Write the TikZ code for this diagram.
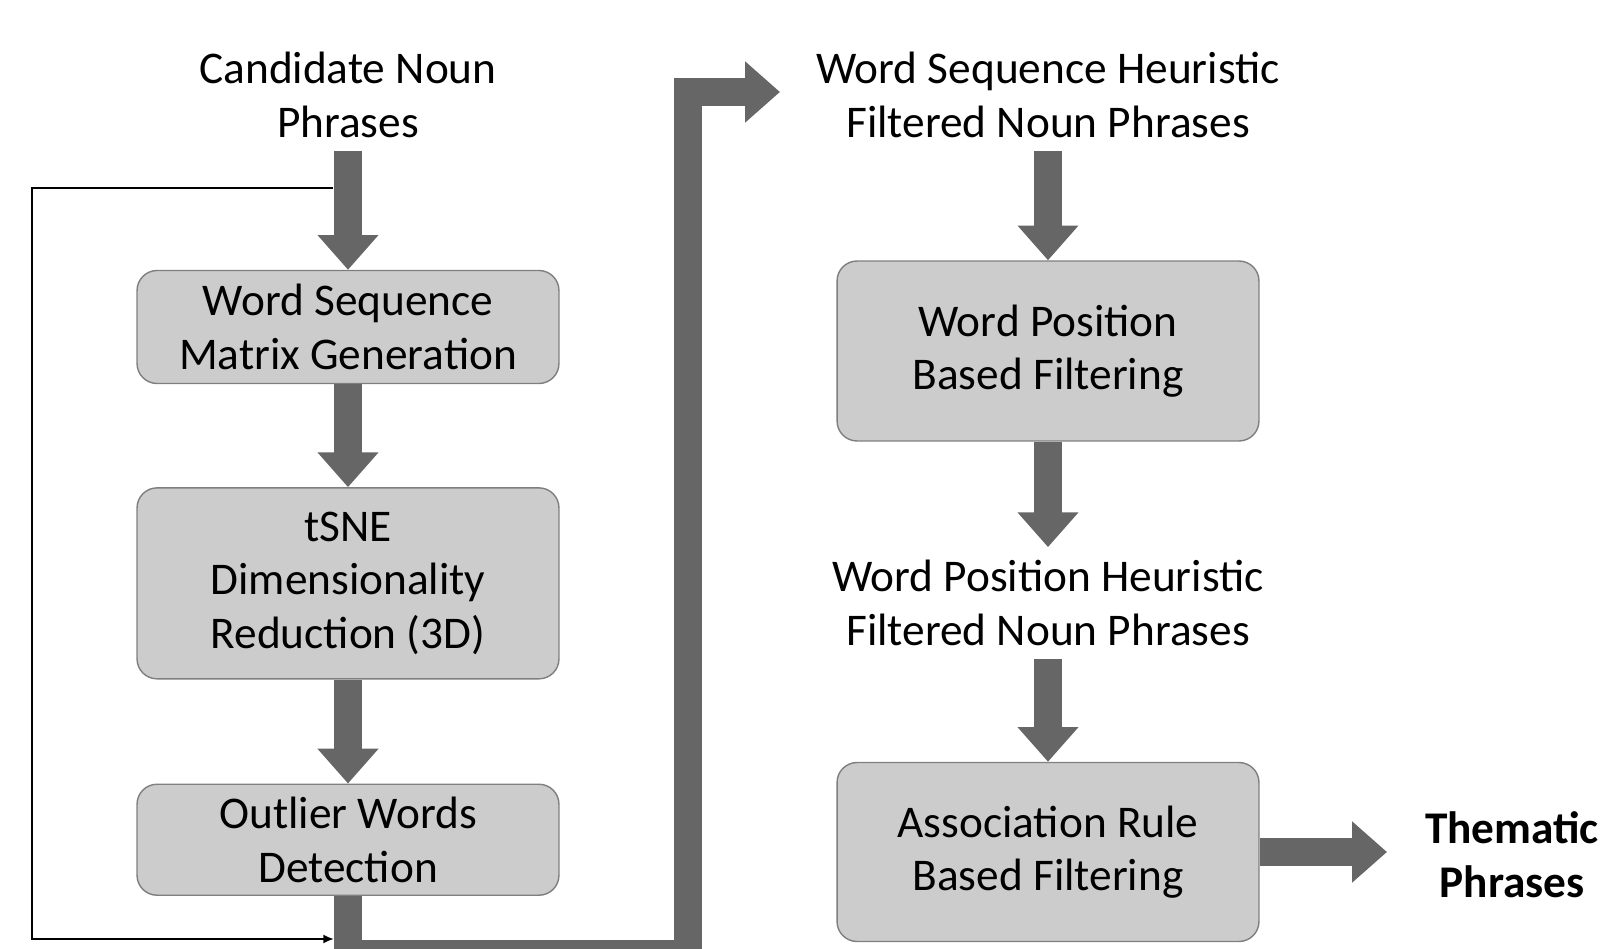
\documentclass[tikz,border=0pt]{standalone}
\usepackage{fontspec}
\setmainfont{Carlito}
\usetikzlibrary{arrows.meta, positioning}

\definecolor{boxfill}{HTML}{CCCCCC}
\definecolor{boxline}{HTML}{7F7F7F}
\definecolor{arrowgray}{HTML}{666666}

\tikzset{
	stage/.style={rectangle,
		rounded corners=0.4cm,
		draw=boxline,
		line width=0.8pt,
		fill=boxfill,
		align=center,
		minimum width=8.44cm,
		inner sep=0pt,
		font=\fontsize{25.8}{30.5}\selectfont},
	phrase/.style={align=center,
		inner sep=2pt,
		outer ysep=5.5pt,
		font=\fontsize{25.8}{30.5}\selectfont},
	fat/.style={draw=arrowgray,
		line width=16.4pt,
		line join=miter,
		-{Triangle[length=19.8pt, width=33.5pt]}},
	thin/.style={draw=black,
		line width=1.1pt,
		-{Latex[length=6pt, width=5pt]}}
}

\begin{document}
\begin{tikzpicture}[x=0.02cm, y=-0.02cm]
	\useasboundingbox (0,0) rectangle (1605,949);

	% Left column
	\node[phrase] (cand) at (348,95) {Candidate Noun\\Phrases};
	\node[stage,
		  minimum height=2.26cm] (wsm) at (348,327) {Word Sequence\\Matrix Generation};
	\node[stage,
		  minimum height=3.82cm,
		  below=2.06cm of wsm] (tsne) {tSNE\\Dimensionality\\Reduction (3D)};
	\node[stage,
		  minimum height=2.22cm,
		  below=2.08cm of tsne] (outl) {Outlier Words\\Detection};

	% Right column
	\node[phrase] (wsh) at (1048,95) {Word Sequence Heuristic\\Filtered Noun Phrases};
	\node[stage,
		  minimum height=3.6cm] (wpf) at (1048,351) {Word Position\\Based Filtering};
	\node[phrase] (wph) at (1048,603) {Word Position Heuristic\\Filtered Noun Phrases};
	\node[stage,
		  minimum height=3.58cm] (asc) at (1048,852) {Association Rule\\Based Filtering};
	\node[phrase,
		  font=\fontsize{25.8}{30.5}\selectfont\bfseries] (them) at (1512,855) {Thematic\\Phrases};

	% Turning points
	\coordinate (low) at (348,954);
	\coordinate (lowright) at (688,954);
	\coordinate (upright) at (688,92);
	\coordinate (wshin) at (780,92);
	\coordinate (themin) at (1387,852);
	\coordinate (fbtop) at (333,188);
	\coordinate (fbleft) at (32,188);
	\coordinate (fbdown) at (32,939);
	\coordinate (fbend) at (334,939);

	% Thick arrows
	\draw[fat] (cand) -- (wsm);
	\draw[fat] (wsm) -- (tsne);
	\draw[fat] (tsne) -- (outl);
	\draw[fat] (outl.south) -- (low) -- (lowright) -- (upright) -- (wshin);
	\draw[fat] (wsh) -- (wpf);
	\draw[fat] (wpf) -- (wph);
	\draw[fat] (wph) -- (asc);
	\draw[fat] (asc.east) -- (themin);

	% Feedback loop
	\draw[thin] (fbtop) -- (fbleft) -- (fbdown) -- (fbend);
\end{tikzpicture}
\end{document}
